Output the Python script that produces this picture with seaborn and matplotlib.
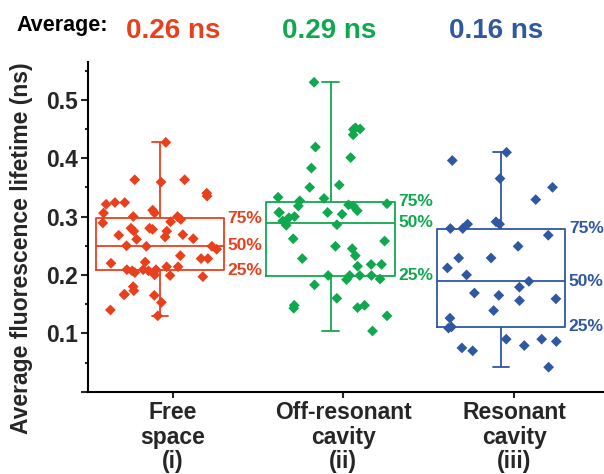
import numpy as np
import pandas as pd
import matplotlib
matplotlib.use("Agg")
import matplotlib.pyplot as plt
import seaborn as sns

# ---------------- data ----------------
groups = ["Free\nspace\n(i)", "Off-resonant\ncavity\n(ii)", "Resonant\ncavity\n(iii)"]
averages = ["0.26 ns", "0.29 ns", "0.16 ns"]
colors = ["#E8401C", "#0FA84F", "#2F57A2"]

free_space = [0.427, 0.363, 0.363, 0.359, 0.340, 0.335, 0.324, 0.324, 0.321, 0.311,
              0.306, 0.306, 0.300, 0.300, 0.295, 0.291, 0.289, 0.275, 0.280, 0.280,
              0.275, 0.269, 0.278, 0.268, 0.265, 0.262, 0.261, 0.250, 0.249, 0.249,
              0.244, 0.233, 0.228, 0.228, 0.222, 0.220, 0.214, 0.214, 0.209, 0.209,
              0.207, 0.209, 0.207, 0.204, 0.200, 0.197, 0.199, 0.173, 0.180, 0.165,
              0.167, 0.166, 0.153, 0.140, 0.130]
off_resonant = [0.530, 0.452, 0.450, 0.449, 0.440, 0.419, 0.401, 0.383, 0.354, 0.350,
                0.331, 0.333, 0.327, 0.322, 0.318, 0.318, 0.320, 0.310, 0.307, 0.304,
                0.307, 0.307, 0.300, 0.298, 0.2925, 0.285, 0.286, 0.262, 0.258, 0.245,
                0.249, 0.233, 0.228, 0.218, 0.218, 0.215, 0.199, 0.199, 0.199, 0.199,
                0.193, 0.192, 0.183, 0.160, 0.148, 0.143, 0.144, 0.148, 0.130, 0.104]
resonant = [0.410, 0.396, 0.365, 0.350, 0.329, 0.287, 0.291, 0.287, 0.2795, 0.2795,
            0.268, 0.249, 0.229, 0.229, 0.212, 0.200, 0.189, 0.179, 0.165, 0.169,
            0.156, 0.159, 0.139, 0.126, 0.109, 0.111, 0.086, 0.090, 0.090, 0.075,
            0.070, 0.079, 0.042]

series = [free_space, off_resonant, resonant]
yticks = [0.0, 0.1, 0.2, 0.3, 0.4, 0.5]
ytick_labels = ["", "0.1", "0.2", "0.3", "0.4", "0.5"]
pct_labels = ["25%", "50%", "75%"]

df = pd.DataFrame({
    "group": np.repeat(groups, [len(s) for s in series]),
    "value": np.concatenate(series),
})

# ---------------- figure ----------------
sns.set_style("ticks")
plt.rcParams["font.family"] = ["Liberation Sans", "DejaVu Sans"]
plt.rcParams["font.weight"] = "bold"

fig = plt.figure(figsize=(6.04, 4.74), dpi=100)
ax = fig.add_axes([0.1457, 0.1736, 0.854, 0.696])

palette = dict(zip(groups, colors))

sns.boxplot(data=df, x="group", y="value", hue="group", order=groups,
            palette=palette, fill=False, saturation=1, width=0.75,
            whis=(0, 100), showfliers=False, linewidth=1.3, legend=False,
            capwidths=0.095, ax=ax)

np.random.seed(3)
sns.stripplot(data=df, x="group", y="value", hue="group", order=groups,
              palette=palette, marker="D", size=5.5, jitter=0.35,
              linewidth=0, legend=False, zorder=3, ax=ax)

# percentile labels to the right of each box
for i, (vals, c) in enumerate(zip(series, colors)):
    qs = np.percentile(vals, [25, 50, 75])
    for q, lab in zip(qs, pct_labels):
        ax.text(i + 0.395, q, lab, color=c, fontsize=12.5, fontweight="bold",
                va="center", ha="left")

ax.set_xlim(-0.42, 2.6)
ax.set_ylim(0, 0.565)
ax.set_yticks(yticks)
ax.set_yticklabels(ytick_labels)
ax.set_yticks(np.arange(0.05, 0.56, 0.1), minor=True)
ax.set_xticks([0.075, 1.075, 2.075])
ax.set_xticklabels(groups, linespacing=1.08)
ax.tick_params(axis="y", which="major", length=5, width=1.5, labelsize=16.5, pad=2)
ax.tick_params(axis="y", which="minor", length=2.5, width=1.5)
ax.tick_params(axis="x", which="major", length=4, width=1.5, labelsize=16.5, pad=3)
for lab in ax.get_xticklabels() + ax.get_yticklabels():
    lab.set_fontweight("bold")

ax.set_xlabel("")
ax.set_ylabel("Average fluorescence lifetime (ns)", fontsize=16.5, fontweight="bold")
ax.yaxis.set_label_coords(-0.106, 0.435)

sns.despine(ax=ax)
for s in ["left", "bottom"]:
    ax.spines[s].set_linewidth(1.5)
    ax.spines[s].set_color("black")

# header with averages
fig.text(62 / 604, 1 - 26 / 474, "Average:", fontsize=15.5, fontweight="bold",
         ha="center", va="center", color="black")
for xc, txt, c in zip([173, 329, 496], averages, colors):
    fig.text(xc / 604, 1 - 31 / 474, txt, fontsize=20, fontweight="bold",
             ha="center", va="center", color=c)

fig.savefig("out.png", dpi=100)
